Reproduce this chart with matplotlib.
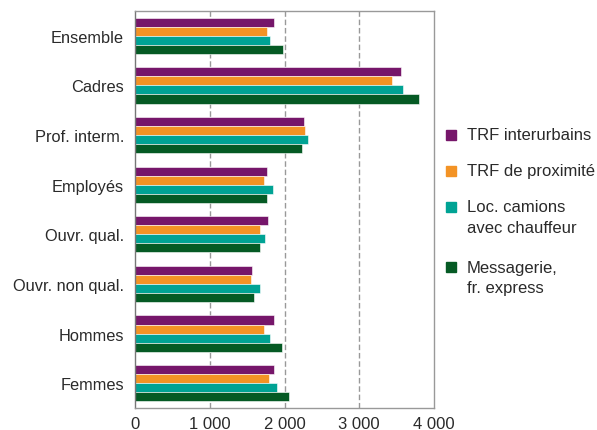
import matplotlib
matplotlib.use("Agg")
import matplotlib.pyplot as plt
import numpy as np
from matplotlib.ticker import FuncFormatter
from matplotlib.patches import Rectangle

plt.rcParams['font.family'] = ['Liberation Sans', 'DejaVu Sans']

categories = ["Ensemble", "Cadres", "Prof. interm.", "Employés", "Ouvr. qual.",
              "Ouvr. non qual.", "Hommes", "Femmes"]
series_names = ["TRF interurbains", "TRF de proximité",
                "Loc. camions\navec chauffeur", "Messagerie,\nfr. express"]
trf_inter = [1860, 3555, 2255, 1760, 1775, 1570, 1860, 1860]
trf_prox = [1760, 3435, 2270, 1730, 1675, 1550, 1730, 1795]
loc_camions = [1800, 3585, 2310, 1840, 1735, 1675, 1800, 1895]
messagerie = [1980, 3805, 2230, 1770, 1675, 1590, 1965, 2060]
x_ticks = [0, 1000, 2000, 3000, 4000]
colors = ["#76166A", "#F39325", "#00A394", "#055A24"]

series = [trf_inter, trf_prox, loc_camions, messagerie]
W, H = 597, 431
txt = '#2a2a2a'

fig = plt.figure(figsize=(W/100, H/100), dpi=100)
ax = fig.add_axes([135/W, 1 - 409/H, (434-135)/W, (409-12)/H])

n = len(categories)
y = np.arange(n)
h = 0.182
for i, (vals, c) in enumerate(zip(series, colors)):
    ax.barh(y + (i - 1.5) * h, vals, height=h, color=c,
            edgecolor='white', linewidth=0.4)

ax.set_ylim(n - 0.5, -0.5)
ax.set_xlim(0, 4000)
ax.set_yticks(y)
ax.set_yticklabels(categories, fontsize=11.8, color=txt)
ax.set_xticks(x_ticks)
ax.xaxis.set_major_formatter(FuncFormatter(lambda v, p: f"{int(v):,}".replace(",", " ")))
ax.tick_params(axis='x', labelsize=12, length=0, pad=6, colors=txt)
ax.tick_params(axis='y', length=0, pad=8)
for v in x_ticks[1:-1]:
    ax.axvline(v, color='#999999', linestyle=(0, (4, 2)), linewidth=1, zorder=0)
for s in ax.spines.values():
    s.set_color('#999999')
    s.set_linewidth(1)
ax.spines['left'].set_color('#777777')

# legend drawn in figure pixel coordinates
sq = 10
entries_y = [136, 172, 208, 268]
for name, c, yc in zip(series_names, colors, entries_y):
    fig.patches.append(Rectangle((446/W, 1 - (yc + sq/2)/H), sq/W, sq/H,
                                 transform=fig.transFigure, color=c))
    for k, line in enumerate(name.split("\n")):
        fig.text(467/W, 1 - (yc + k*20.5)/H, line, fontsize=12, color=txt,
                 va='center', ha='left')

fig.savefig("out.png", dpi=100)
